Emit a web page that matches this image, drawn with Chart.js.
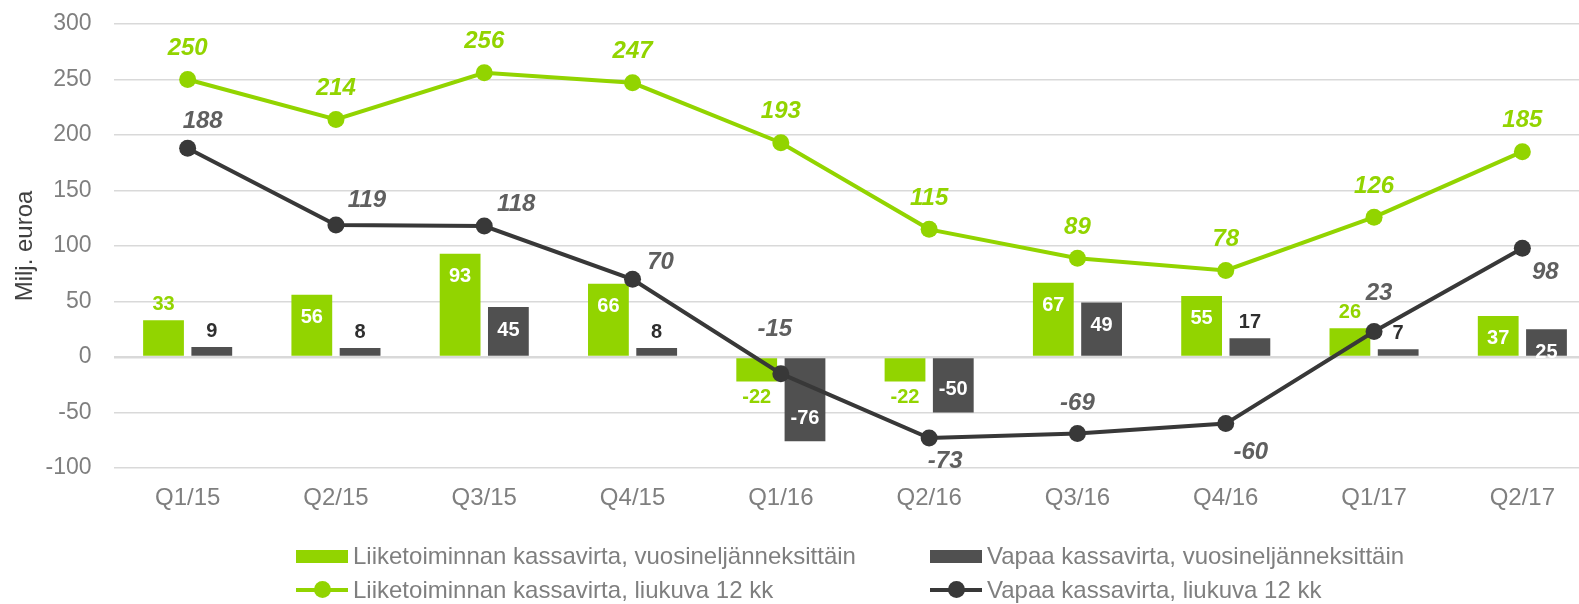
<!DOCTYPE html>
<html>
<head>
<meta charset="utf-8">
<script src="https://cdn.jsdelivr.net/npm/chart.js@4"></script>
<style>
  html, body { margin: 0; padding: 0; background: #ffffff; overflow: hidden; width: 1579px; height: 604px; }
  #wrap { position: absolute; left: 0; top: 0; width: 1605px; height: 604px; }
  #legend { position: absolute; left: 0; top: 0; width: 1579px; height: 604px; pointer-events: none;
            font-family: "Liberation Sans", Arial, sans-serif; font-size: 24px; color: #7f7f7f; }
  .item { position: absolute; height: 30px; display: flex; align-items: center; white-space: nowrap; }
  .box { display: inline-block; width: 52px; height: 13px; margin-right: 5px; }
  .lm { position: relative; display: inline-block; width: 52px; height: 18px; margin-right: 5px; }
  .lm .ln { position: absolute; left: 0; right: 0; top: 7px; height: 4px; }
  .lm .dot { position: absolute; left: 18px; top: 0; width: 17px; height: 17px; border-radius: 50%; }
</style>
</head>
<body>
<div id="wrap"><canvas id="c"></canvas></div>
<div id="legend"></div>
<script>
// ---- data ----
const categories = ['Q1/15','Q2/15','Q3/15','Q4/15','Q1/16','Q2/16','Q3/16','Q4/16','Q1/17','Q2/17'];
const operatingQuarterly = [33, 56, 93, 66, -22, -22, 67, 55, 26, 37];
const freeQuarterly      = [9, 8, 45, 8, -76, -50, 49, 17, 7, 25];
const operatingRolling   = [250, 214, 256, 247, 193, 115, 89, 78, 126, 185];
const freeRolling        = [188, 119, 118, 70, -15, -73, -69, -60, 23, 98];
const seriesNames = [
  'Liiketoiminnan kassavirta, vuosineljänneksittäin',
  'Vapaa kassavirta, vuosineljänneksittäin',
  'Liiketoiminnan kassavirta, liukuva 12 kk',
  'Vapaa kassavirta, liukuva 12 kk'
];
const yTicks = [-100, -50, 0, 50, 100, 150, 200, 250, 300];
const yTitle = 'Milj. euroa';

// ---- styles ----
const GREEN = '#92D400';
const DARKBAR = '#505050';
const DARKLINE = '#383838';
const FONT = '"Liberation Sans", Arial, sans-serif';
// label offsets (px) for the free-cash-flow rolling line labels
const freeRollingLabelOffsets = [[15,-27],[31,-25],[32,-22],[28,-17],[-6,-44],[16,23],[0,-30],[25,29],[5,-38],[23,24]];

const labelPlugin = {
  id: 'valueLabels',
  afterDatasetsDraw(chart) {
    const ctx = chart.ctx;
    ctx.save();
    ctx.textAlign = 'center';
    ctx.textBaseline = 'middle';
    chart.data.datasets.forEach((ds, di) => {
      const meta = chart.getDatasetMeta(di);
      const lc = ds.labelCfg;
      meta.data.forEach((el, i) => {
        const v = ds.data[i];
        let x = el.x, y = el.y, color;
        if (lc.kind === 'bar') {
          const dir = v >= 0 ? -1 : 1;
          ctx.font = 'bold 20px ' + FONT;
          if (Math.abs(v) >= lc.insideMin) {
            y = el.y - dir * 23;
            color = '#ffffff';
          } else {
            y = el.y + dir * 16;
            color = lc.outColor;
          }
        } else {
          ctx.font = 'italic bold 24px ' + FONT;
          const off = lc.offsets ? lc.offsets[i] : [0, -31];
          x += off[0]; y += off[1];
          color = lc.color;
        }
        ctx.fillStyle = color;
        ctx.fillText(String(v), x, y);
      });
    });
    ctx.restore();
  }
};

const chart = new Chart(document.getElementById('c'), {
  type: 'bar',
  data: {
    labels: categories,
    datasets: [
      { type: 'bar', label: seriesNames[0], data: operatingQuarterly, backgroundColor: GREEN, order: 2,
        categoryPercentage: 0.651, barPercentage: 0.845,
        labelCfg: { kind: 'bar', insideMin: 35, outColor: GREEN } },
      { type: 'bar', label: seriesNames[1], data: freeQuarterly, backgroundColor: DARKBAR, order: 2,
        categoryPercentage: 0.651, barPercentage: 0.845,
        labelCfg: { kind: 'bar', insideMin: 20, outColor: '#2f2f2f' } },
      { type: 'line', label: seriesNames[2], data: operatingRolling, borderColor: GREEN, backgroundColor: GREEN,
        borderWidth: 4, pointRadius: 8.5, pointBorderWidth: 0, pointBackgroundColor: GREEN, tension: 0, order: 0,
        labelCfg: { kind: 'line', color: GREEN } },
      { type: 'line', label: seriesNames[3], data: freeRolling, borderColor: DARKLINE, backgroundColor: DARKLINE,
        borderWidth: 4, pointRadius: 8.5, pointBorderWidth: 0, pointBackgroundColor: DARKLINE, tension: 0, order: 1,
        labelCfg: { kind: 'line', color: '#5f5f5f', offsets: freeRollingLabelOffsets } }
    ]
  },
  options: {
    responsive: true,
    maintainAspectRatio: false,
    animation: false,
    layout: { padding: { top: 24, right: 2, left: 0, bottom: 0 } },
    plugins: { legend: { display: false }, tooltip: { enabled: false } },
    scales: {
      x: {
        grid: { display: false, drawTicks: false },
        border: { display: false },
        ticks: { color: '#7f7f7f', font: { family: FONT, size: 24 }, padding: 16, maxRotation: 0 },
        afterFit(scale) { scale.height = 136; }
      },
      y: {
        min: yTicks[0], max: yTicks[yTicks.length - 1],
        afterBuildTicks(scale) { scale.ticks = yTicks.map(v => ({ value: v })); },
        grid: { color: '#d9d9d9', lineWidth: ctx => (ctx.tick && ctx.tick.value === 0 ? 2.6 : 1.6), drawTicks: false },
        border: { display: false },
        ticks: { color: '#7f7f7f', font: { family: FONT, size: 23 }, padding: 22 },
        title: { display: true, text: yTitle, color: '#404040', font: { family: FONT, size: 24 }, padding: { top: 11, bottom: 0 } },
        afterFit(scale) { scale.width = 113.5; scale.paddingTop = 0; scale.paddingBottom = 0; }
      }
    }
  },
  plugins: [labelPlugin]
});

// ---- HTML legend built from the datasets ----
const legendPos = [[296, 541], [930, 541], [296, 575], [930, 575]];
const legend = document.getElementById('legend');
chart.data.datasets.forEach((ds, i) => {
  const item = document.createElement('div');
  item.className = 'item';
  item.style.left = legendPos[i][0] + 'px';
  item.style.top = legendPos[i][1] + 'px';
  const mk = document.createElement('span');
  if (ds.type === 'bar') {
    mk.className = 'box';
    mk.style.background = ds.backgroundColor;
  } else {
    mk.className = 'lm';
    const ln = document.createElement('span'); ln.className = 'ln'; ln.style.background = ds.borderColor;
    const dot = document.createElement('span'); dot.className = 'dot'; dot.style.background = ds.borderColor;
    mk.appendChild(ln); mk.appendChild(dot);
  }
  const tx = document.createElement('span');
  tx.textContent = ds.label;
  item.appendChild(mk); item.appendChild(tx);
  legend.appendChild(item);
});
</script>
</body>
</html>
